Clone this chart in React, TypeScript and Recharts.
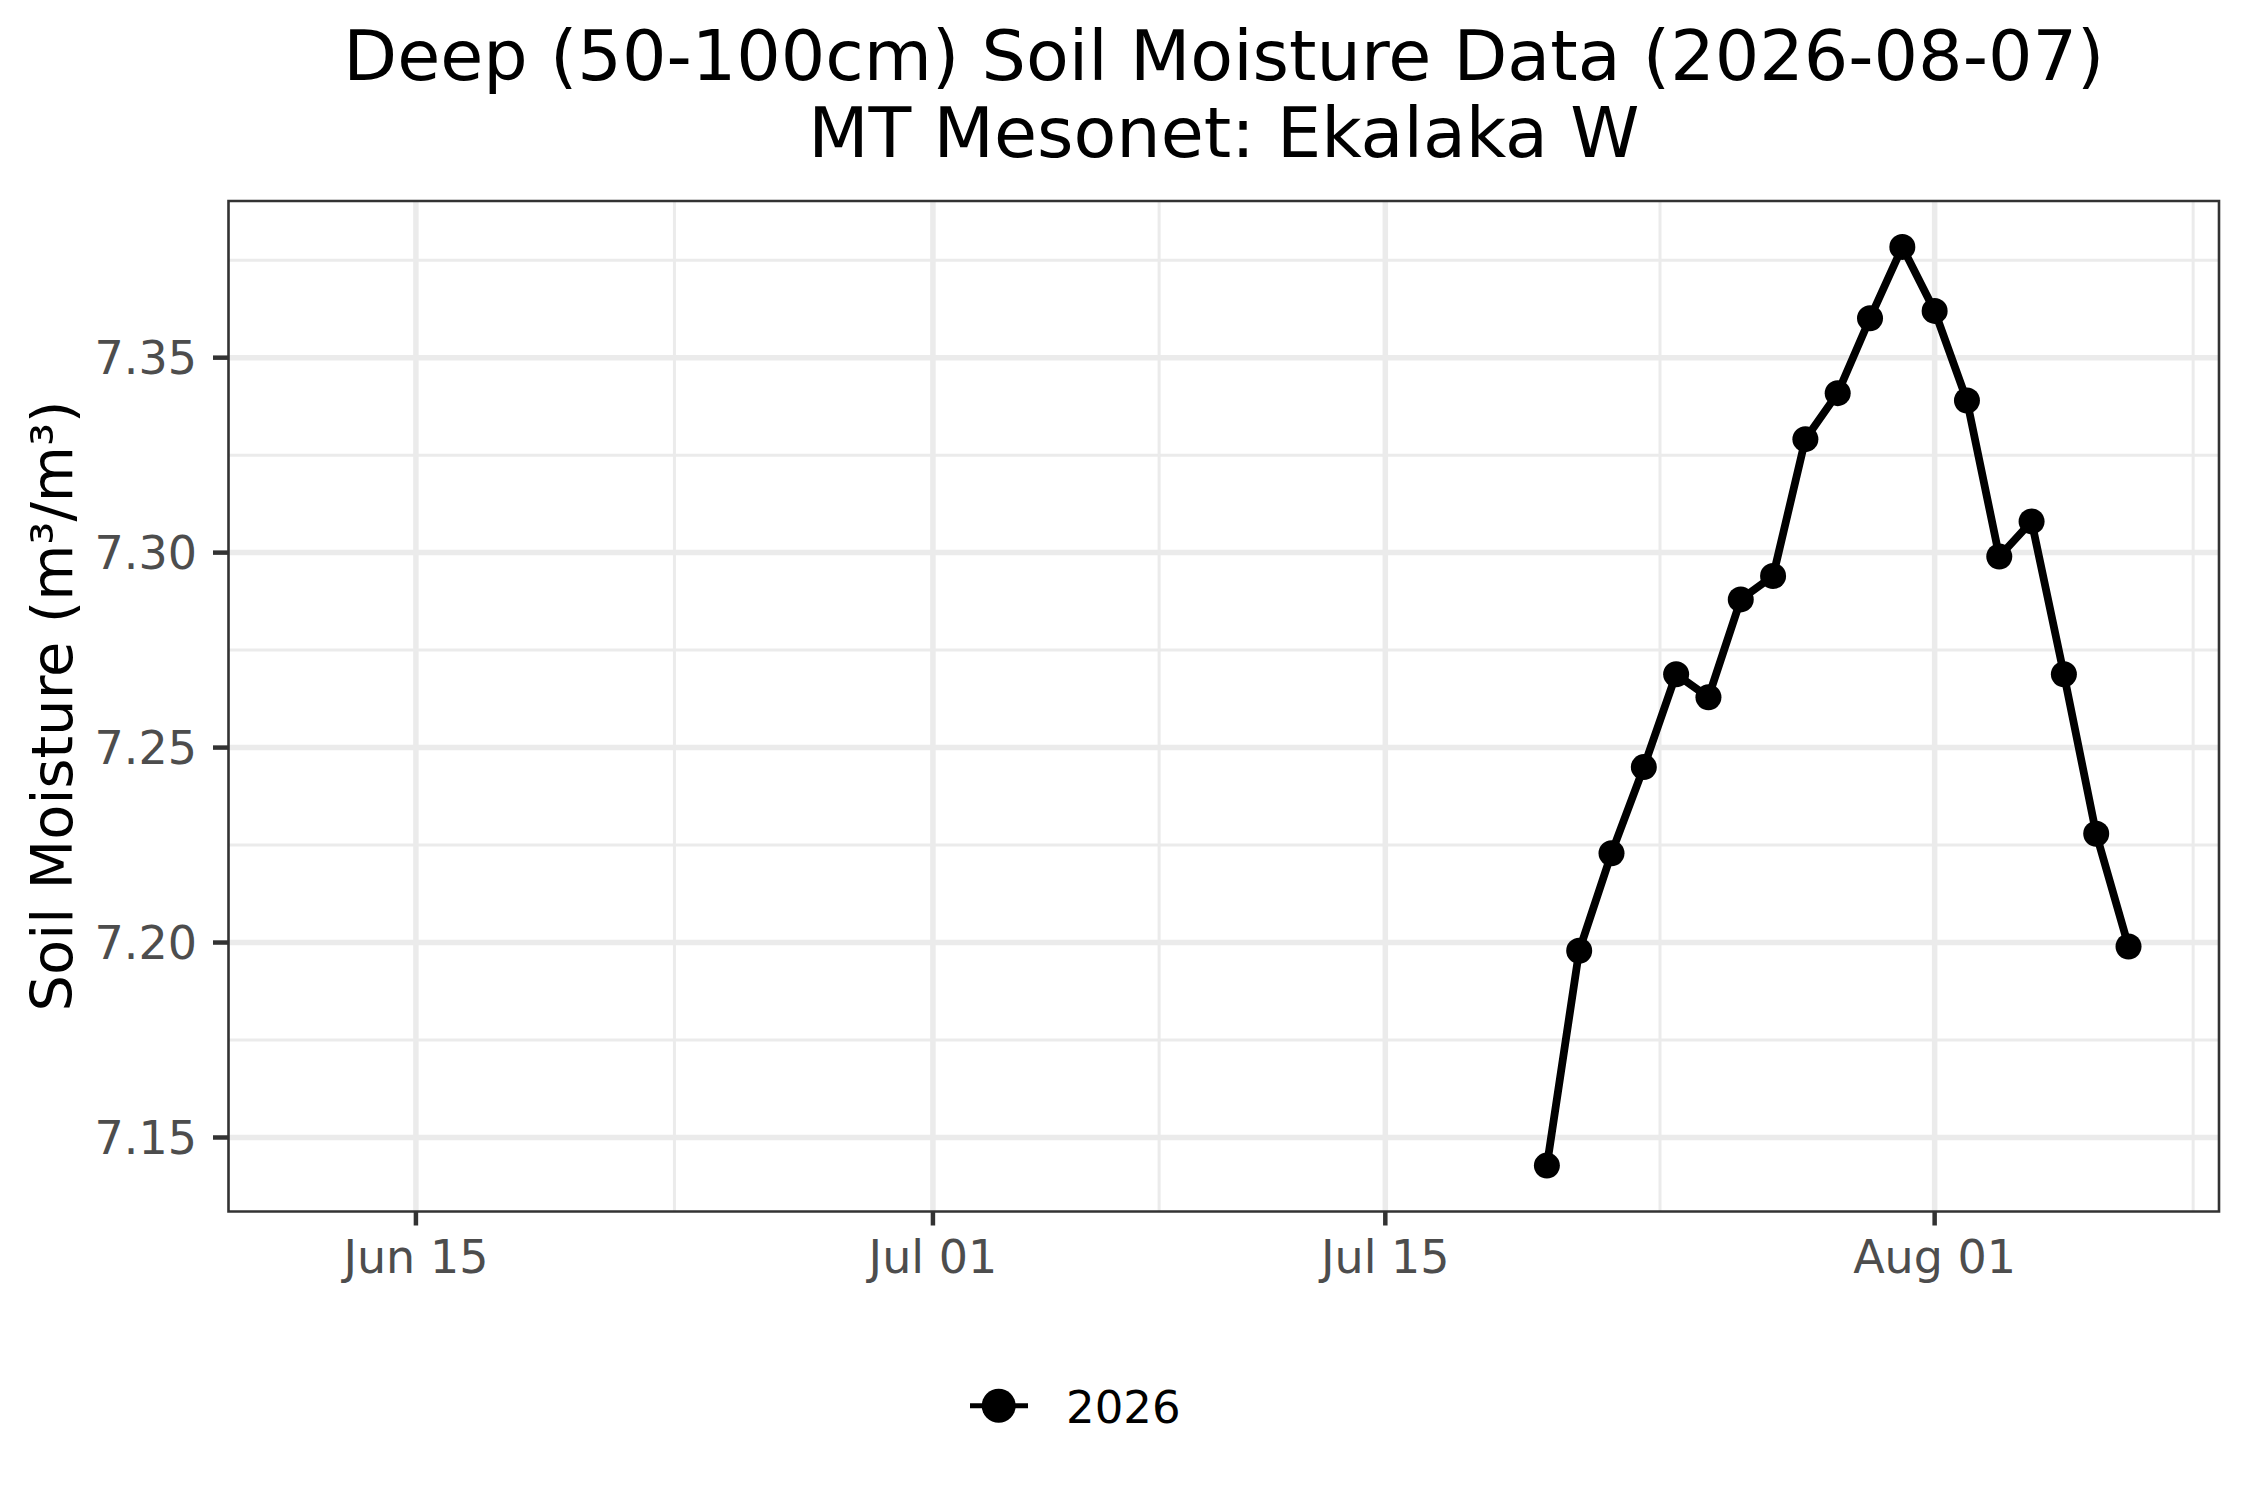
import React from 'react';
import { LineChart, Line, XAxis, YAxis, CartesianGrid, ReferenceArea, Legend } from 'recharts';

const dates = [
  '2026-07-20', '2026-07-21', '2026-07-22', '2026-07-23', '2026-07-24', '2026-07-25', '2026-07-26',
  '2026-07-27', '2026-07-28', '2026-07-29', '2026-07-30', '2026-07-31', '2026-08-01', '2026-08-02',
  '2026-08-03', '2026-08-04', '2026-08-05', '2026-08-06', '2026-08-07',
];
const moisture = [
  7.1428, 7.1979, 7.2229, 7.2450, 7.2688, 7.2629, 7.2880,
  7.2940, 7.3291, 7.3409, 7.3601, 7.3784, 7.3620, 7.3390,
  7.2990, 7.3080, 7.2688, 7.2279, 7.1990,
];
const seriesName = '2026';
const xLimitDates = ['2026-06-12', '2026-08-07'];
const xTickDates = ['2026-06-15', '2026-07-01', '2026-07-15', '2026-08-01'];
const xTickLabels = ['Jun 15', 'Jul 01', 'Jul 15', 'Aug 01'];
const xMinorDates = ['2026-06-23T00:00:00Z', '2026-07-08T00:00:00Z', '2026-07-23T12:00:00Z', '2026-08-09T00:00:00Z'];
const yTicks = [7.15, 7.2, 7.25, 7.3, 7.35];
const yTickLabels = ['7.15', '7.20', '7.25', '7.30', '7.35'];
const yMinor = [7.175, 7.225, 7.275, 7.325, 7.375];
const titleLines = ['Deep (50-100cm) Soil Moisture Data (2026-08-07)', 'MT Mesonet: Ekalaka W'];
const yTitle = 'Soil Moisture (m³/m³)';

const ORIGIN = Date.parse('2026-06-01T00:00:00Z');
const toDay = (s: string) => (Date.parse(s.length === 10 ? s + 'T00:00:00Z' : s) - ORIGIN) / 86400000;

const data = dates.map((d, i) => ({ d: toDay(d), v: moisture[i] }));
const xLim = xLimitDates.map(toDay);
const xPad = (xLim[1] - xLim[0]) * 0.05;
const xDomain: [number, number] = [xLim[0] - xPad, xLim[1] + xPad];
const yMin = Math.min(...moisture);
const yMax = Math.max(...moisture);
const yPad = (yMax - yMin) * 0.05;
const yDomain: [number, number] = [yMin - yPad, yMax + yPad];
const xTicks = xTickDates.map(toDay);
const xMinor = xMinorDates.map(toDay);

const FONT = 'DejaVu Sans';

const XTick = (props: any) => {
  const { x, y, payload } = props;
  const idx = xTicks.findIndex((t) => Math.abs(t - payload.value) < 1e-6);
  return (
    <text x={x} y={y} dy={47.5} textAnchor="middle" fontSize={46} fill="#4D4D4D" fontFamily={FONT}>
      {idx >= 0 ? xTickLabels[idx] : ''}
    </text>
  );
};

const YTick = (props: any) => {
  const { x, y, payload } = props;
  const idx = yTicks.findIndex((t) => Math.abs(t - payload.value) < 1e-6);
  return (
    <text x={x} y={y} dy={16.8} textAnchor="end" fontSize={46} fill="#4D4D4D" fontFamily={FONT}>
      {idx >= 0 ? yTickLabels[idx] : ''}
    </text>
  );
};

const LegendContent = () => (
  <svg width={2250} height={60} style={{ display: 'block' }}>
    <line x1={970} x2={1028} y1={29.7} y2={29.7} stroke="#000" strokeWidth={5} />
    <circle cx={998.7} cy={29.7} r={17} fill="#000" />
    <text x={1066} y={46.7} fontSize={45} fill="#000" fontFamily={FONT}>
      {seriesName}
    </text>
  </svg>
);

export default function App() {
  return (
    <div style={{ position: 'absolute', left: 0, top: 0, width: 2250, height: 1500, background: '#fff' }}>
      <LineChart
        width={2250}
        height={1500}
        data={data}
        margin={{ top: 201, right: 31, bottom: 188.5, left: 0 }}
      >
        <CartesianGrid verticalValues={xMinor} horizontalValues={yMinor} stroke="#EBEBEB" strokeWidth={3} />
        <CartesianGrid verticalValues={xTicks} horizontalValues={yTicks} stroke="#EBEBEB" strokeWidth={5.5} />
        <XAxis
          type="number"
          dataKey="d"
          domain={xDomain}
          allowDataOverflow
          ticks={xTicks}
          height={100}
          axisLine={false}
          tickSize={14}
          tickMargin={0}
          tickLine={{ stroke: '#333333', strokeWidth: 4.5 }}
          tick={<XTick />}
          interval={0}
        />
        <YAxis
          type="number"
          domain={yDomain}
          allowDataOverflow
          ticks={yTicks}
          width={228.5}
          axisLine={false}
          tickSize={15.5}
          tickMargin={16}
          tickLine={{ stroke: '#333333', strokeWidth: 4.5 }}
          tick={<YTick />}
          interval={0}
        />
        <ReferenceArea
          x1={xDomain[0]}
          x2={xDomain[1]}
          y1={yDomain[0]}
          y2={yDomain[1]}
          fill="none"
          fillOpacity={0}
          stroke="#333333"
          strokeWidth={2.6}
          ifOverflow="visible"
        />
        <Line
          type="linear"
          dataKey="v"
          name={seriesName}
          stroke="#000"
          strokeWidth={7.8}
          dot={{ r: 13, fill: '#000', stroke: 'none' }}
          activeDot={false}
          isAnimationActive={false}
        />
        <Legend
          layout="horizontal"
          verticalAlign="middle"
          align="center"
          content={<LegendContent />}
          wrapperStyle={{ left: 0, top: 1376, width: 2250, height: 60 }}
        />
      </LineChart>
      <svg
        width={2250}
        height={1500}
        style={{ position: 'absolute', left: 0, top: 0, pointerEvents: 'none' }}
      >
        <text x={1223.8} y={80} textAnchor="middle" fontSize={70} fill="#000" fontFamily={FONT}>
          {titleLines[0]}
        </text>
        <text x={1223.8} y={156.7} textAnchor="middle" fontSize={70} fill="#000" fontFamily={FONT}>
          {titleLines[1]}
        </text>
        <text
          x={72}
          y={706}
          transform="rotate(-90 72 706)"
          textAnchor="middle"
          fontSize={57.6}
          fill="#000"
          fontFamily={FONT}
        >
          {yTitle}
        </text>
      </svg>
    </div>
  );
}
